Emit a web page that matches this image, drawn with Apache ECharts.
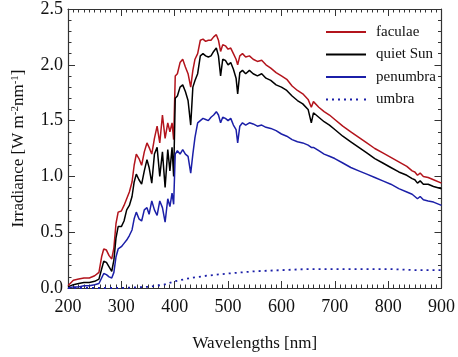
<!DOCTYPE html>
<html>
<head>
<meta charset="utf-8">
<script src="https://cdn.jsdelivr.net/npm/echarts@6/dist/echarts.min.js"></script>
<style>
html,body{margin:0;padding:0;background:#fff;}
#chart{width:458px;height:357px;}
</style>
</head>
<body>
<div id="chart"></div>
<script>
// Wavelength grid (nm) shared by faculae, quiet Sun and penumbra
var wavelengths = [200,210,220,230,240,250,258,263,267,272,277,282,286,290,294,300,305,310,315,320,324,328,333,338,343,348,352,357,362,367,372,377,382,387,391,395,398,401,405,410,415,420,425,430,434,438,443,448,453,458,463,468,473,478,482,486,490,495,500,505,510,515,518,522,527,533,540,547,555,563,571,580,590,600,610,620,630,640,650,656,660,670,680,690,700,715,730,745,760,775,790,805,820,835,845,850,855,860,866,875,885,900];

var faculae = [0.02,0.07,0.08,0.09,0.09,0.11,0.14,0.28,0.35,0.34,0.29,0.26,0.36,0.58,0.68,0.69,0.74,0.80,0.86,0.95,1.10,1.20,1.16,1.10,1.22,1.30,1.26,1.20,1.34,1.45,1.30,1.55,1.34,1.48,1.40,1.48,1.33,1.90,1.92,2.02,2.05,1.98,1.92,1.80,1.95,2.05,2.10,2.22,2.23,2.21,2.22,2.22,2.25,2.27,2.22,2.12,2.18,2.17,2.14,2.15,2.10,2.05,2.00,2.08,2.10,2.07,2.08,2.05,2.03,2.04,2.00,1.97,1.93,1.90,1.87,1.81,1.77,1.74,1.69,1.62,1.67,1.62,1.58,1.55,1.51,1.45,1.40,1.35,1.30,1.25,1.21,1.17,1.13,1.09,1.05,1.04,1.01,1.03,1.00,0.99,0.97,0.94];

var quietSun = [0.01,0.03,0.04,0.05,0.05,0.06,0.08,0.17,0.24,0.23,0.19,0.15,0.25,0.45,0.55,0.55,0.60,0.70,0.74,0.82,0.95,1.02,0.97,0.93,1.05,1.15,1.08,0.94,1.20,1.26,1.00,1.22,0.90,1.24,1.05,1.26,1.00,1.70,1.72,1.80,1.82,1.76,1.68,1.46,1.80,1.86,1.92,2.08,2.10,2.08,2.07,2.08,2.12,2.15,2.08,1.90,2.05,2.04,2.00,2.02,1.96,1.88,1.74,1.93,1.95,1.92,1.95,1.92,1.90,1.92,1.88,1.86,1.82,1.80,1.77,1.72,1.68,1.65,1.60,1.48,1.57,1.53,1.49,1.46,1.42,1.36,1.31,1.26,1.21,1.16,1.12,1.08,1.04,1.01,0.98,0.97,0.94,0.96,0.93,0.93,0.91,0.89];

var penumbra = [0.00,0.01,0.01,0.02,0.02,0.03,0.04,0.09,0.13,0.12,0.10,0.09,0.14,0.28,0.35,0.37,0.40,0.43,0.47,0.52,0.62,0.68,0.62,0.60,0.70,0.72,0.66,0.78,0.70,0.65,0.78,0.72,0.59,0.80,0.73,0.85,0.75,1.20,1.23,1.20,1.24,1.20,1.18,1.03,1.20,1.35,1.48,1.50,1.52,1.51,1.50,1.53,1.55,1.58,1.55,1.48,1.53,1.52,1.50,1.52,1.46,1.42,1.30,1.45,1.48,1.46,1.48,1.47,1.45,1.46,1.44,1.43,1.41,1.38,1.36,1.33,1.31,1.30,1.28,1.26,1.26,1.23,1.20,1.18,1.16,1.12,1.08,1.05,1.02,0.99,0.96,0.93,0.89,0.86,0.84,0.82,0.80,0.82,0.79,0.78,0.77,0.74];

// Umbra has its own coarse grid
var umbraWavelengths = [200,250,300,350,380,400,430,460,500,550,600,650,700,750,800,850,900];
var umbra = [0.00,0.00,0.00,0.01,0.03,0.06,0.09,0.11,0.13,0.15,0.16,0.17,0.17,0.17,0.17,0.16,0.16];

var seriesNames = ['faculae','quiet Sun','penumbra','umbra'];

function pairs(xs, ys){ return xs.map(function(x,i){ return [x, ys[i]]; }); }

var font = 'Liberation Serif';
var axisCol = '#333';

var solidIcon = 'path://M0,0H40V2H0Z';
var dotIcon = 'path://M0,0H2V2H0Z M6,0H8V2H6Z M12,0H14V2H12Z M18,0H20V2H18Z M24,0H26V2H24Z M30,0H32V2H30Z M38,0H40V2H38Z';

var chart = echarts.init(document.getElementById('chart'), null, {renderer:'canvas'});

function baseX(show){
  return {
    type:'value', min:200, max:900, interval:100,
    axisLine:{show:true, onZero:false, lineStyle:{color:axisCol, width:1.2}},
    axisTick:{show:true, inside:true, length:7, lineStyle:{color:axisCol}},
    minorTick:{show:true, splitNumber:10, length:3.5, lineStyle:{color:axisCol}},
    axisLabel:{show:show, color:'#111', fontFamily:font, fontSize:18, margin:10,
      formatter:function(v){ return String(v); }},
    splitLine:{show:false}
  };
}
function baseY(show){
  return {
    type:'value', min:0, max:2.5, interval:0.5,
    axisLine:{show:true, onZero:false, lineStyle:{color:axisCol, width:1.2}},
    axisTick:{show:true, inside:true, length:7, lineStyle:{color:axisCol}},
    minorTick:{show:true, splitNumber:5, length:3.5, lineStyle:{color:axisCol}},
    axisLabel:{show:show, color:'#111', fontFamily:font, fontSize:18, margin:5,
      formatter:function(v){ return v.toFixed(1); }},
    splitLine:{show:false}
  };
}

var xb = baseX(true);
xb.name = 'Wavelengths [nm]';
xb.nameLocation = 'middle';
xb.nameGap = 47;
xb.nameTextStyle = {fontFamily:font, fontSize:17, color:'#111'};
var xt = baseX(false); xt.position = 'top';

var yl = baseY(true);
yl.name = 'Irradiance [W m{s|-2}nm{s|-1}]';
yl.nameLocation = 'middle';
yl.nameGap = 40;
yl.nameRotate = 90;
yl.nameTextStyle = {fontFamily:font, fontSize:17, color:'#111',
  rich:{s:{fontFamily:font, fontSize:11, color:'#111', verticalAlign:'top', lineHeight:18}}};
var yr = baseY(false); yr.position = 'right';

function lineSeries(name, data, color, type, w){
  return {
    name:name, type:'line', data:data, xAxisIndex:0, yAxisIndex:0,
    showSymbol:false, symbol:'none', smooth:false, animation:false,
    lineStyle:{color:color, width:w, type:type},
    itemStyle:{color:color}
  };
}

chart.setOption({
  animation:false,
  backgroundColor:'#fff',
  grid:{left:68, right:11, top:6, bottom:69, containLabel:false},
  legend:{
    show:true,
    orient:'vertical', left:321, top:19, itemWidth:40, itemHeight:2, itemGap:6.5,
    data:[
      {name:seriesNames[0], icon:solidIcon},
      {name:seriesNames[1], icon:solidIcon},
      {name:seriesNames[2], icon:solidIcon},
      {name:seriesNames[3], icon:dotIcon}
    ],
    textStyle:{fontFamily:font, fontSize:15, color:'#111', lineHeight:16, padding:[0,0,0,5]}
  },
  xAxis:[xb, xt],
  yAxis:[yl, yr],
  series:[
    lineSeries(seriesNames[0], pairs(wavelengths, faculae), '#b3141c', 'solid', 1.5),
    lineSeries(seriesNames[1], pairs(wavelengths, quietSun), '#000000', 'solid', 1.5),
    lineSeries(seriesNames[2], pairs(wavelengths, penumbra), '#1b1fa8', 'solid', 1.5),
    lineSeries(seriesNames[3], pairs(umbraWavelengths, umbra), '#1b1fa8', [2,4], 1.8)
  ]
});
</script>
</body>
</html>
